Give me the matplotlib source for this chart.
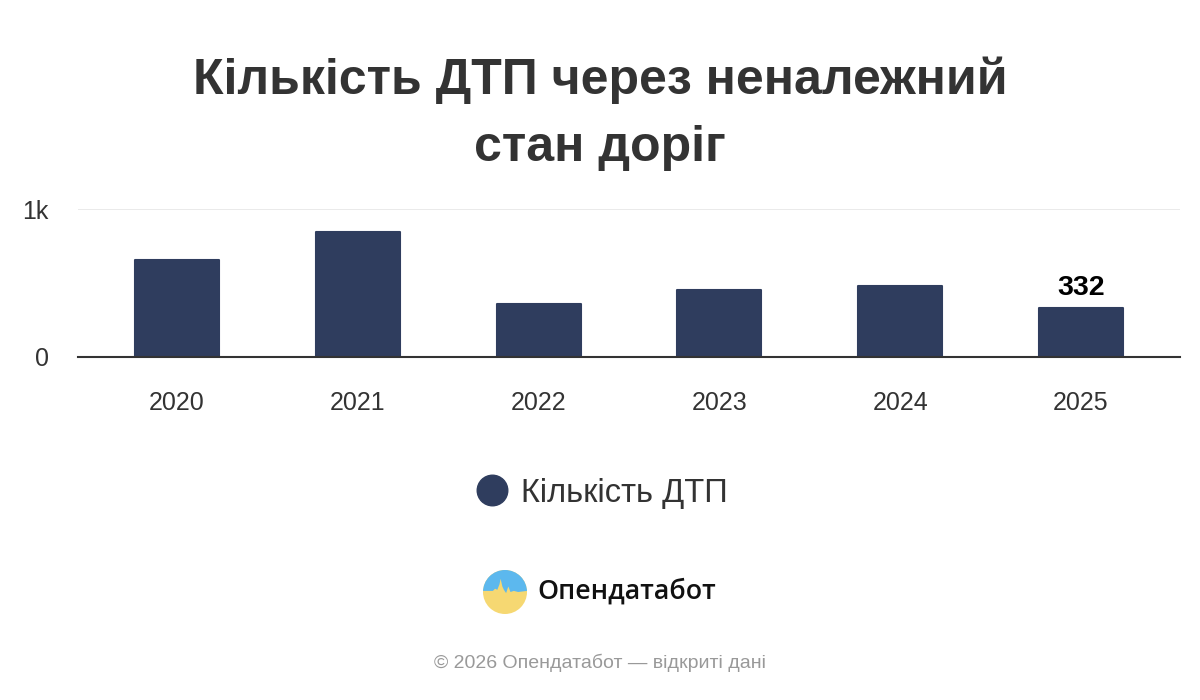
import matplotlib.pyplot as plt
from matplotlib.lines import Line2D
from matplotlib.patches import Circle, Polygon

plt.rcParams['font.family'] = ['Liberation Sans', 'DejaVu Sans']

# data
years = ['2020', '2021', '2022', '2023', '2024', '2025']
accidents = [654, 844, 356, 451, 478, 332]
series_name = 'Кількість ДТП'

bar_color = '#2f3d5e'
text_color = '#333333'

fig = plt.figure(figsize=(12, 7), dpi=100)
ax = fig.add_axes([0.065, 0.4907, 0.9183, 0.2107])

x = list(range(len(years)))
ax.bar(x, accidents, width=0.465, color=bar_color, edgecolor=bar_color,
       linewidth=1.5, joinstyle='round', zorder=3)

ax.set_xlim(-0.548, 5.548)
ax.set_ylim(0, 1000)
ax.set_yticks([0, 1000])
ax.set_yticklabels(['0', '1k'])
ax.set_xticks(x)
ax.set_xticklabels(years)
ax.grid(axis='y', color='#e6e6e6', linewidth=1.2, zorder=0)
for s in ['top', 'right', 'left']:
    ax.spines[s].set_visible(False)
ax.spines['bottom'].set_color('#333333')
ax.spines['bottom'].set_linewidth(1.5)
ax.spines['bottom'].set_zorder(4)
ax.tick_params(axis='x', length=0, pad=25, labelsize=18, labelcolor=text_color)
ax.tick_params(axis='y', length=0, pad=21, labelsize=18, labelcolor=text_color)

# last value label
ax.annotate(str(accidents[-1]), (x[-1], accidents[-1]), xytext=(0, 5),
            textcoords='offset points', ha='center', va='bottom',
            fontsize=20.5, fontweight='bold', color='black')

fig.text(0.5, 0.837, 'Кількість ДТП через неналежний\nстан доріг', ha='center', va='center',
         fontsize=36, fontweight='bold', color=text_color, linespacing=1.58)

leg_handle = Line2D([], [], marker='o', linestyle='none', markersize=22,
                    markerfacecolor=bar_color, markeredgecolor=bar_color)
fig.legend(handles=[leg_handle], labels=[series_name], loc='center',
           bbox_to_anchor=(0.5, 0.2957), frameon=False, fontsize=23.5,
           handlelength=1.2, handletextpad=0.3, labelcolor=text_color)

# logo
lax = fig.add_axes([505 / 1200 - 22 / 1200, 1 - 592 / 700 - 22 / 700, 44 / 1200, 44 / 700])
lax.set_xlim(-1, 1)
lax.set_ylim(-1, 1)
lax.set_aspect('equal')
lax.axis('off')
clip = Circle((0, 0), 1, transform=lax.transData)
lax.add_patch(Circle((0, 0), 1, fc='#f6d872', ec='none'))
sky = Polygon([(-1, 1), (-1, 0.05), (-0.55, 0.05), (-0.45, 0.15), (-0.35, 0.1),
               (-0.25, 0.35), (-0.2, 0.6), (-0.12, 0.25), (-0.05, 0.1), (0.05, -0.05),
               (0.15, 0.25), (0.25, 0.0), (0.4, 0.05), (0.6, 0.0), (1, 0.05), (1, 1)],
              fc='#5cb8ee', ec='none')
lax.add_patch(sky)
sky.set_clip_path(clip)

fig.text(537 / 1200, 1 - 592 / 700, 'Опендатабот', ha='left', va='center',
         fontsize=19.3, fontweight='semibold', color='#111111', family=['Open Sans', 'DejaVu Sans'])

fig.text(0.5, 1 - 663 / 700, '© 2026 Опендатабот — відкриті дані', ha='center', va='center',
         fontsize=14, color='#999999')

fig.savefig('out.png', dpi=100)
